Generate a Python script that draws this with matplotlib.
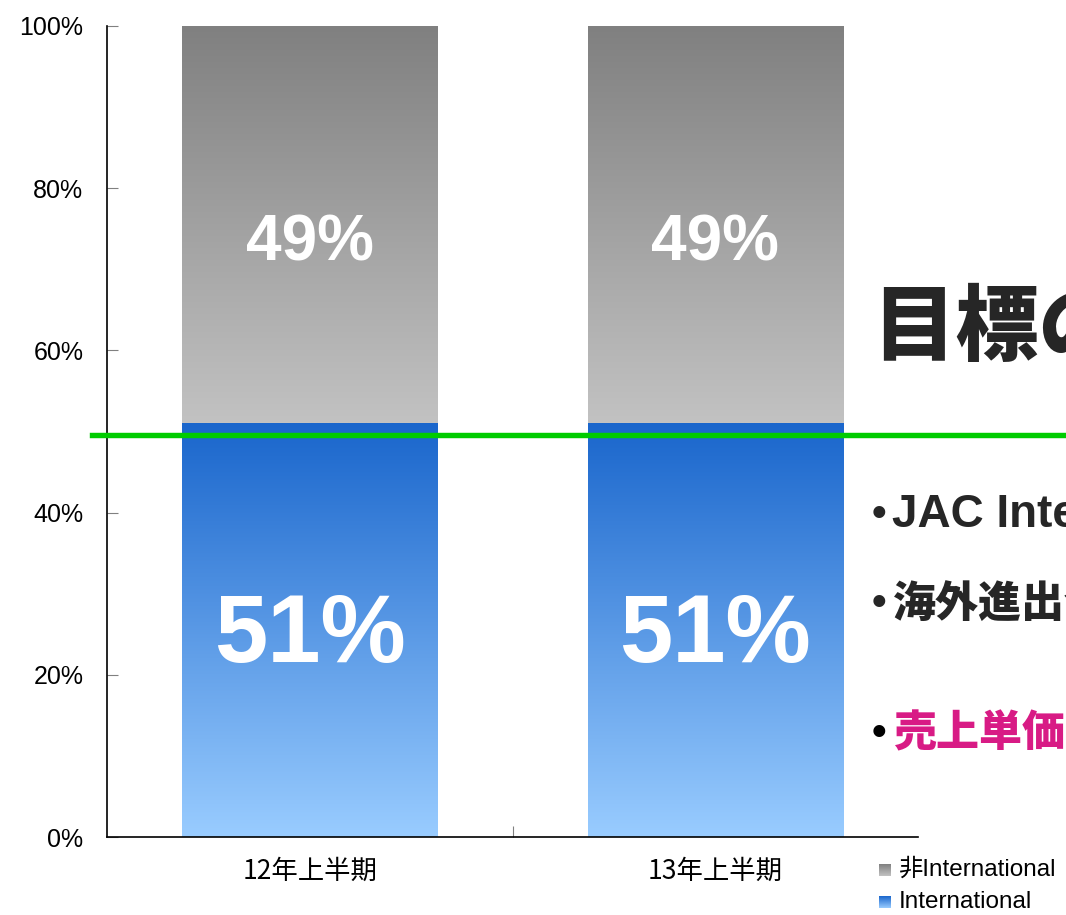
import numpy as np
import matplotlib.pyplot as plt
from matplotlib.colors import LinearSegmentedColormap

plt.rcParams['font.family'] = ['Liberation Sans', 'Noto Sans CJK JP', 'DejaVu Sans']

# data
categories = ['12年上半期', '13年上半期']
intl = [51, 51]          # International share (%)
non_intl = [49, 49]      # 非International share (%)
target = 49.6            # green target line
yticks = [0, 20, 40, 60, 80, 100]

blue_cmap = LinearSegmentedColormap.from_list('b', ['#99ccff', '#1a66cc'])
gray_cmap = LinearSegmentedColormap.from_list('g', ['#c2c2c2', '#808080'])

fig = plt.figure(figsize=(10.66, 9.15), dpi=100)
ax = fig.add_axes([0.1004, 0.0852, 0.7608, 0.8864])

x = np.arange(len(categories))
b1 = ax.bar(x, intl, width=0.63, color='none')
b2 = ax.bar(x, non_intl, bottom=intl, width=0.63, color='none')

grad = np.linspace(0, 1, 256).reshape(-1, 1)
for bars, cmap in [(b1, blue_cmap), (b2, gray_cmap)]:
    for p in bars:
        x0, y0 = p.get_x(), p.get_y()
        ax.imshow(grad, cmap=cmap, origin='lower', aspect='auto',
                  extent=[x0, x0 + p.get_width(), y0, y0 + p.get_height()], zorder=1)

for i in range(len(categories)):
    ax.text(x[i], intl[i] / 2 - 0.8, f'{intl[i]}%', ha='center', va='center',
            color='white', fontsize=69, fontweight='bold', zorder=3)
    ax.text(x[i], intl[i] + non_intl[i] / 2 - 2.3, f'{non_intl[i]}%', ha='center', va='center',
            color='white', fontsize=46, fontweight='bold', zorder=3)

ax.set_xlim(-0.5, 1.5)
ax.set_ylim(0, 100)
ax.set_yticks(yticks)
ax.set_yticklabels([f'{v}%' for v in yticks], fontsize=18)
ax.set_xticks([0.5])
ax.set_xticklabels([''])
ax.tick_params(axis='y', direction='in', length=8, color='#808080', pad=17)
ax.tick_params(axis='x', direction='in', length=8, color='#808080')
for i, c in enumerate(categories):
    ax.text(x[i], -2.5, c, ha='center', va='top', fontsize=19,
            family=['Noto Sans CJK JP', 'DejaVu Sans'])
for s in ['top', 'right']:
    ax.spines[s].set_visible(False)
ax.spines['left'].set_linewidth(1.2)
ax.spines['bottom'].set_linewidth(1.2)

# target line running across the figure
ax.axhline(target, xmin=-0.0185, xmax=1.2, color='#00cc00', lw=3.9, clip_on=False, zorder=4)

# right side text (cut off by figure edge)
cjk = ['Noto Sans CJK JP', 'DejaVu Sans']
fig.text(0.818, 0.641, '目標の達成', fontsize=60, fontweight='black', color='#262626',
         va='center', family=cjk)
for ypos, col in [(0.437, '#262626'), (0.340, '#262626'), (0.198, 'black')]:
    fig.text(0.8246, ypos, '•', fontsize=30, fontweight='bold', color=col,
             ha='center', va='center', family=['Liberation Sans'])
fig.text(0.837, 0.437, 'JAC International', fontsize=33, fontweight='bold', color='#262626',
         va='center', family=['Liberation Sans'])
fig.text(0.838, 0.340, '海外進出企業', fontsize=31, fontweight='black', color='#262626',
         va='center', family=cjk)
fig.text(0.838, 0.198, '売上単価', fontsize=31, fontweight='black', color='#d81b85',
         va='center', family=cjk)

# legend with gradient squares
for ypos, cmap, label in [(0.043, gray_cmap, '非International'), (0.008, blue_cmap, 'International')]:
    lax = fig.add_axes([0.825, ypos, 0.011, 0.013])
    lax.imshow(grad, cmap=cmap, origin='lower', aspect='auto')
    lax.axis('off')
    fig.text(0.843, ypos + 0.0065, label, fontsize=17.5, va='center',
             family=['Liberation Sans', 'Noto Sans CJK JP'])

fig.savefig('out.png', dpi=100)
